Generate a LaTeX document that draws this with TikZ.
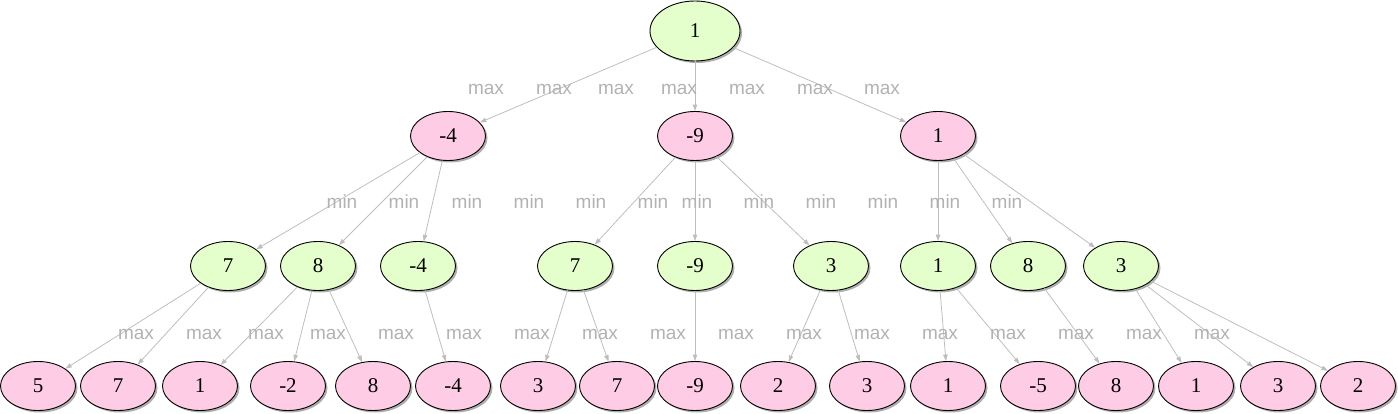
\documentclass[tikz,border=0pt]{standalone}
\usepackage{fontspec}
\setmainfont{Liberation Serif}
\newfontfamily\labelfont{Liberation Sans}
\usetikzlibrary{shapes.geometric,arrows.meta,shadows}
\definecolor{maxfill}{RGB}{229,255,204}
\definecolor{minfill}{RGB}{255,204,229}
\definecolor{edgegray}{RGB}{190,190,190}
\definecolor{labelgray}{RGB}{178,178,178}
\tikzset{
  tnode/.style={ellipse, draw=black, line width=0.9pt, inner sep=0pt,
    minimum width=75pt, minimum height=49pt,
    font=\fontsize{21}{24}\selectfont,
    drop shadow={shadow xshift=2pt, shadow yshift=-2pt, fill=black!45, opacity=0.7}},
  maxnode/.style={tnode, fill=maxfill},
  minnode/.style={tnode, fill=minfill},
  rootnode/.style={maxnode, minimum width=90pt, minimum height=60pt},
  edge/.style={draw=edgegray, line width=0.8pt, -{Triangle[length=6.5pt,width=4.5pt]}},
  lbl/.style={text=labelgray, anchor=base, inner sep=0pt, font=\labelfont\fontsize{19}{22}\selectfont}
}
\begin{document}
\begin{tikzpicture}[x=1pt,y=-1pt]
\useasboundingbox (0,0) rectangle (1398,414);
% root
\node[rootnode] (r) at (695,31) {1};
% level 1
\node[minnode] (a) at (448,136) {-4};
\node[minnode] (b) at (695,136) {-9};
\node[minnode] (c) at (938,136) {1};
% level 2
\node[maxnode] (a1) at (228,266) {7};
\node[maxnode] (a2) at (318,266) {8};
\node[maxnode] (a3) at (418,266) {-4};
\node[maxnode] (b1) at (575,266) {7};
\node[maxnode] (b2) at (695,266) {-9};
\node[maxnode] (b3) at (831,266) {3};
\node[maxnode] (c1) at (938,266) {1};
\node[maxnode] (c2) at (1028,266) {8};
\node[maxnode] (c3) at (1121,266) {3};
% leaves
\node[minnode] (l1) at (38,386) {5};
\node[minnode] (l2) at (118,386) {7};
\node[minnode] (l3) at (200,386) {1};
\node[minnode] (l4) at (288,386) {-2};
\node[minnode] (l5) at (373,386) {8};
\node[minnode] (l6) at (453,386) {-4};
\node[minnode] (l7) at (538,386) {3};
\node[minnode] (l8) at (617,386) {7};
\node[minnode] (l9) at (695,386) {-9};
\node[minnode] (l10) at (778,386) {2};
\node[minnode] (l11) at (867,386) {3};
\node[minnode] (l12) at (948,386) {1};
\node[minnode] (l13) at (1038,386) {-5};
\node[minnode] (l14) at (1116,386) {8};
\node[minnode] (l15) at (1196,386) {1};
\node[minnode] (l16) at (1278,386) {3};
\node[minnode] (l17) at (1358,386) {2};
% edges
\foreach \s/\t in {r/a, r/b, r/c,
  a/a1, a/a2, a/a3, b/b1, b/b2, b/b3, c/c1, c/c2, c/c3,
  a1/l1, a1/l2, a2/l3, a2/l4, a2/l5, a3/l6, b1/l7, b1/l8, b2/l9,
  b3/l10, b3/l11, c1/l12, c1/l13, c2/l14, c3/l15, c3/l16, c3/l17}
  \draw[edge] (\s) -- (\t);
% labels
\foreach \x [count=\i] in {486,554,616,679,747,815,882}
  \node[lbl] (m1-\i) at (\x,95) {max};
\foreach \x [count=\i] in {342,404,467,529,591,653,697,759,821,883,945,1007}
  \node[lbl] (m2-\i) at (\x,209) {min};
\foreach \x [count=\i] in {136,204,266,328,396,464,532,600,668,736,804,872,940,1008,1076,1144,1212}
  \node[lbl] (m3-\i) at (\x,339) {max};
\end{tikzpicture}
\end{document}
